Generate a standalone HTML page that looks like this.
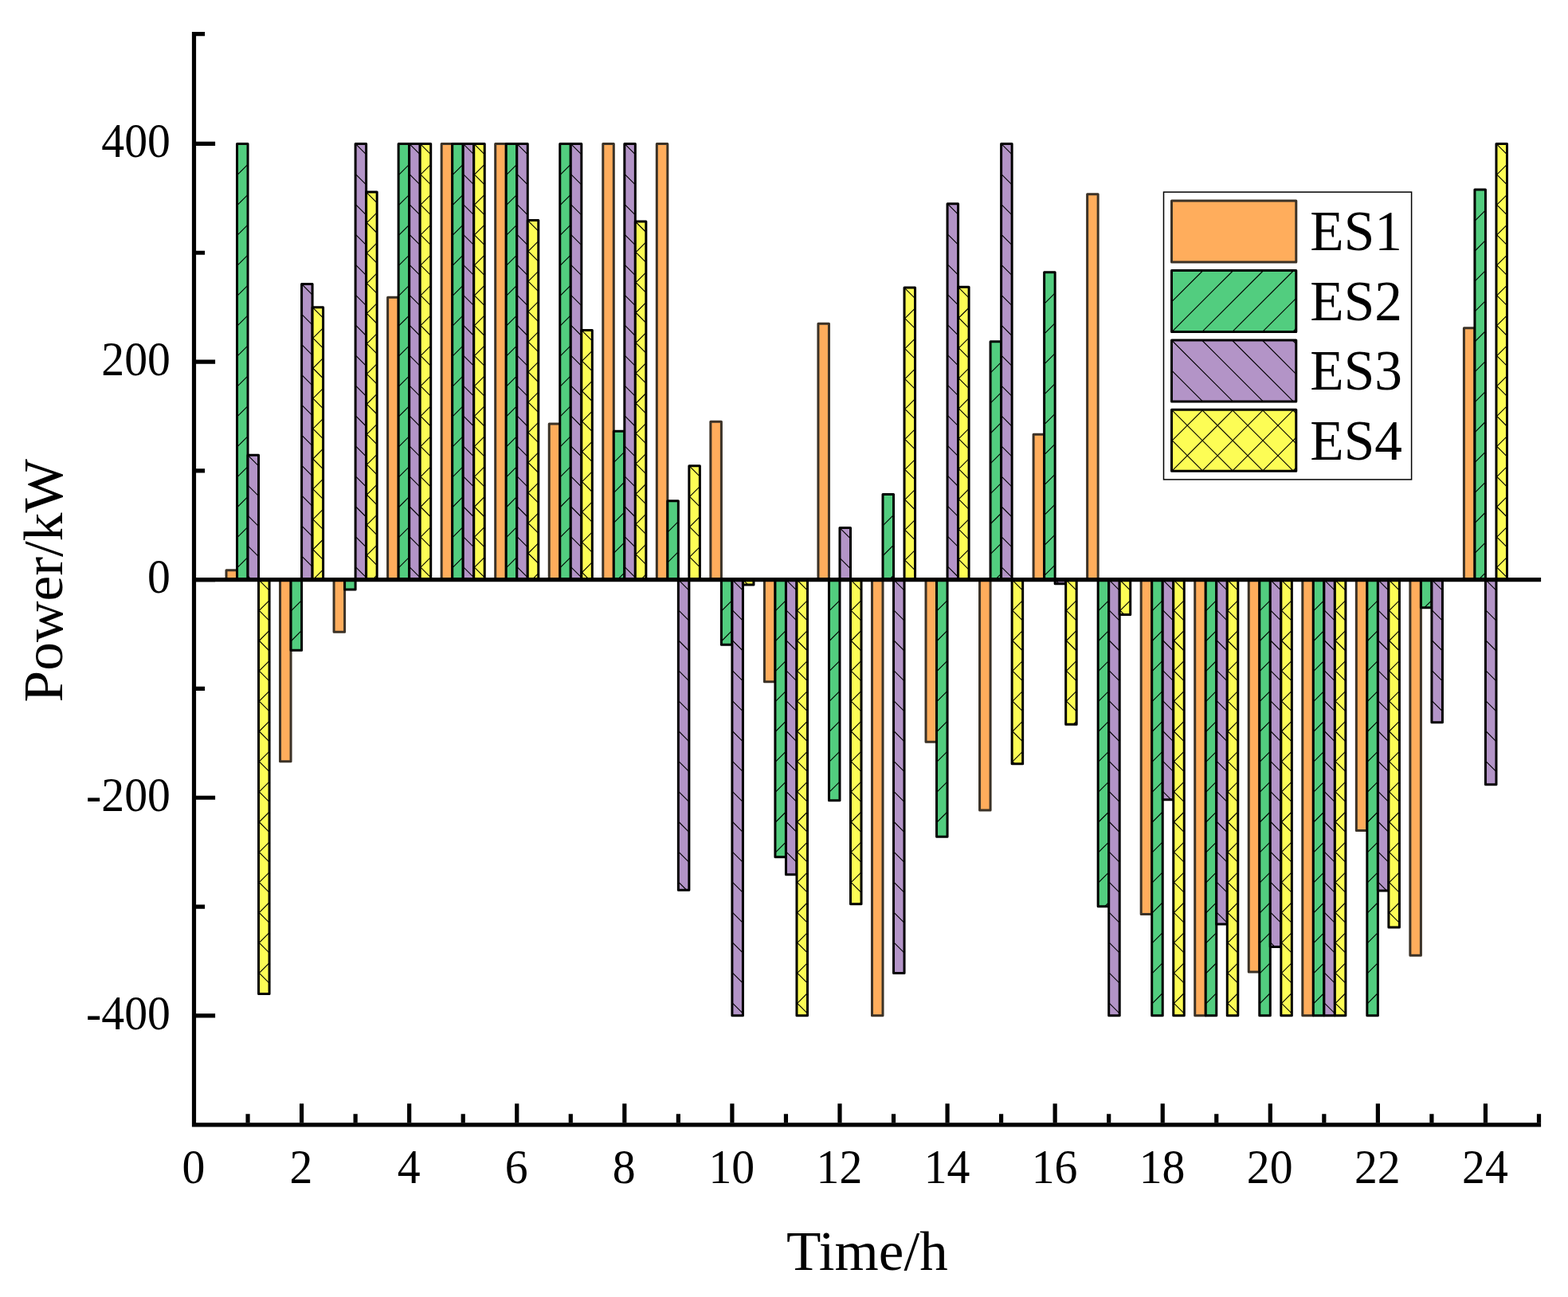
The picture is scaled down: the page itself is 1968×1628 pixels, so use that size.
<!DOCTYPE html>
<html lang="en">
<head>
<meta charset="utf-8">
<title>Power/kW vs Time/h</title>
<style>
html,body{margin:0;padding:0;background:#fff;}
body{width:1968px;height:1628px;overflow:hidden;}
svg{display:block;}
</style>
</head>
<body>
<svg width="1968" height="1628" viewBox="0 0 1968 1628" role="img" aria-label="Grouped bar chart of Power/kW versus Time/h for ES1 to ES4">
<rect width="1968" height="1628" fill="#fff"/>
<g fill="#FFAD5C" stroke="#3b3227" stroke-width="3.0" stroke-linejoin="round">
<rect x="284.00" y="715.75" width="13.52" height="11.90"/>
<rect x="351.54" y="727.65" width="13.52" height="228.05"/>
<rect x="419.08" y="727.65" width="13.52" height="65.66"/>
<rect x="486.62" y="373.34" width="13.52" height="354.31"/>
<rect x="554.16" y="180.45" width="13.52" height="547.20"/>
<rect x="621.70" y="180.45" width="13.52" height="547.20"/>
<rect x="689.24" y="532.03" width="13.52" height="195.62"/>
<rect x="756.78" y="180.45" width="13.52" height="547.20"/>
<rect x="824.32" y="180.45" width="13.52" height="547.20"/>
<rect x="891.86" y="529.29" width="13.52" height="198.36"/>
<rect x="959.40" y="727.65" width="13.52" height="128.04"/>
<rect x="1026.94" y="406.17" width="13.52" height="321.48"/>
<rect x="1094.48" y="727.65" width="13.52" height="547.20"/>
<rect x="1162.02" y="727.65" width="13.52" height="203.70"/>
<rect x="1229.56" y="727.65" width="13.52" height="289.47"/>
<rect x="1297.10" y="545.30" width="13.52" height="182.35"/>
<rect x="1364.64" y="243.79" width="13.52" height="483.86"/>
<rect x="1432.18" y="727.65" width="13.52" height="419.84"/>
<rect x="1499.72" y="727.65" width="13.52" height="547.20"/>
<rect x="1567.26" y="727.65" width="13.52" height="492.34"/>
<rect x="1634.80" y="727.65" width="13.52" height="547.20"/>
<rect x="1702.34" y="727.65" width="13.52" height="314.91"/>
<rect x="1769.88" y="727.65" width="13.52" height="471.55"/>
<rect x="1837.42" y="411.64" width="13.52" height="316.01"/>
</g>
<g fill="#52CD7F" stroke="#000" stroke-width="3.0" stroke-linejoin="round">
<rect x="297.52" y="180.45" width="13.52" height="547.20"/>
<rect x="365.06" y="727.65" width="13.52" height="88.51"/>
<rect x="432.60" y="727.65" width="13.52" height="12.31"/>
<rect x="500.14" y="180.45" width="13.52" height="547.20"/>
<rect x="567.68" y="180.45" width="13.52" height="547.20"/>
<rect x="635.22" y="180.45" width="13.52" height="547.20"/>
<rect x="702.76" y="180.45" width="13.52" height="547.20"/>
<rect x="770.30" y="541.19" width="13.52" height="186.46"/>
<rect x="837.84" y="628.74" width="13.52" height="98.91"/>
<rect x="905.38" y="727.65" width="13.52" height="81.53"/>
<rect x="972.92" y="727.65" width="13.52" height="348.02"/>
<rect x="1040.46" y="727.65" width="13.52" height="277.16"/>
<rect x="1108.00" y="620.40" width="13.52" height="107.25"/>
<rect x="1175.54" y="727.65" width="13.52" height="322.71"/>
<rect x="1243.08" y="428.74" width="13.52" height="298.91"/>
<rect x="1310.62" y="341.87" width="13.52" height="385.78"/>
<rect x="1378.16" y="727.65" width="13.52" height="409.99"/>
<rect x="1445.70" y="727.65" width="13.52" height="547.20"/>
<rect x="1513.24" y="727.65" width="13.52" height="547.20"/>
<rect x="1580.78" y="727.65" width="13.52" height="547.20"/>
<rect x="1648.32" y="727.65" width="13.52" height="547.20"/>
<rect x="1715.86" y="727.65" width="13.52" height="547.20"/>
<rect x="1783.40" y="727.65" width="13.52" height="35.02"/>
<rect x="1850.94" y="237.91" width="13.52" height="489.74"/>
</g>
<path d="M297.52 181.95L299.02 180.45M297.52 219.87L311.04 206.35M297.52 257.79L311.04 244.27M297.52 295.71L311.04 282.19M297.52 333.63L311.04 320.11M297.52 371.55L311.04 358.03M297.52 409.47L311.04 395.95M297.52 447.39L311.04 433.87M297.52 485.31L311.04 471.79M297.52 523.23L311.04 509.71M297.52 561.15L311.04 547.63M297.52 599.07L311.04 585.55M297.52 636.99L311.04 623.47M297.52 674.91L311.04 661.39M297.52 712.83L311.04 699.31M365.06 729.15L366.56 727.65M365.06 767.07L378.58 753.55M365.06 804.99L378.58 791.47M432.60 729.15L434.10 727.65M500.14 181.95L501.64 180.45M500.14 219.87L513.66 206.35M500.14 257.79L513.66 244.27M500.14 295.71L513.66 282.19M500.14 333.63L513.66 320.11M500.14 371.55L513.66 358.03M500.14 409.47L513.66 395.95M500.14 447.39L513.66 433.87M500.14 485.31L513.66 471.79M500.14 523.23L513.66 509.71M500.14 561.15L513.66 547.63M500.14 599.07L513.66 585.55M500.14 636.99L513.66 623.47M500.14 674.91L513.66 661.39M500.14 712.83L513.66 699.31M567.68 181.95L569.18 180.45M567.68 219.87L581.20 206.35M567.68 257.79L581.20 244.27M567.68 295.71L581.20 282.19M567.68 333.63L581.20 320.11M567.68 371.55L581.20 358.03M567.68 409.47L581.20 395.95M567.68 447.39L581.20 433.87M567.68 485.31L581.20 471.79M567.68 523.23L581.20 509.71M567.68 561.15L581.20 547.63M567.68 599.07L581.20 585.55M567.68 636.99L581.20 623.47M567.68 674.91L581.20 661.39M567.68 712.83L581.20 699.31M635.22 181.95L636.72 180.45M635.22 219.87L648.74 206.35M635.22 257.79L648.74 244.27M635.22 295.71L648.74 282.19M635.22 333.63L648.74 320.11M635.22 371.55L648.74 358.03M635.22 409.47L648.74 395.95M635.22 447.39L648.74 433.87M635.22 485.31L648.74 471.79M635.22 523.23L648.74 509.71M635.22 561.15L648.74 547.63M635.22 599.07L648.74 585.55M635.22 636.99L648.74 623.47M635.22 674.91L648.74 661.39M635.22 712.83L648.74 699.31M702.76 181.95L704.26 180.45M702.76 219.87L716.28 206.35M702.76 257.79L716.28 244.27M702.76 295.71L716.28 282.19M702.76 333.63L716.28 320.11M702.76 371.55L716.28 358.03M702.76 409.47L716.28 395.95M702.76 447.39L716.28 433.87M702.76 485.31L716.28 471.79M702.76 523.23L716.28 509.71M702.76 561.15L716.28 547.63M702.76 599.07L716.28 585.55M702.76 636.99L716.28 623.47M702.76 674.91L716.28 661.39M702.76 712.83L716.28 699.31M770.30 542.69L771.80 541.19M770.30 580.61L783.82 567.09M770.30 618.53L783.82 605.01M770.30 656.45L783.82 642.93M770.30 694.37L783.82 680.85M774.94 727.65L783.82 718.77M837.84 630.24L839.34 628.74M837.84 668.16L851.36 654.64M837.84 706.08L851.36 692.56M905.38 729.15L906.88 727.65M905.38 767.07L918.90 753.55M905.38 804.99L918.90 791.47M972.92 729.15L974.42 727.65M972.92 767.07L986.44 753.55M972.92 804.99L986.44 791.47M972.92 842.91L986.44 829.39M972.92 880.83L986.44 867.31M972.92 918.75L986.44 905.23M972.92 956.67L986.44 943.15M972.92 994.59L986.44 981.07M972.92 1032.51L986.44 1018.99M972.92 1070.43L986.44 1056.91M1040.46 729.15L1041.96 727.65M1040.46 767.07L1053.98 753.55M1040.46 804.99L1053.98 791.47M1040.46 842.91L1053.98 829.39M1040.46 880.83L1053.98 867.31M1040.46 918.75L1053.98 905.23M1040.46 956.67L1053.98 943.15M1040.46 994.59L1053.98 981.07M1108.00 621.90L1109.50 620.40M1108.00 659.82L1121.52 646.30M1108.00 697.74L1121.52 684.22M1116.01 727.65L1121.52 722.14M1175.54 729.15L1177.04 727.65M1175.54 767.07L1189.06 753.55M1175.54 804.99L1189.06 791.47M1175.54 842.91L1189.06 829.39M1175.54 880.83L1189.06 867.31M1175.54 918.75L1189.06 905.23M1175.54 956.67L1189.06 943.15M1175.54 994.59L1189.06 981.07M1175.54 1032.51L1189.06 1018.99M1243.08 430.24L1244.58 428.74M1243.08 468.16L1256.60 454.64M1243.08 506.08L1256.60 492.56M1243.08 544.00L1256.60 530.48M1243.08 581.92L1256.60 568.40M1243.08 619.84L1256.60 606.32M1243.08 657.76L1256.60 644.24M1243.08 695.68L1256.60 682.16M1249.03 727.65L1256.60 720.08M1310.62 343.37L1312.12 341.87M1310.62 381.29L1324.14 367.77M1310.62 419.21L1324.14 405.69M1310.62 457.13L1324.14 443.61M1310.62 495.05L1324.14 481.53M1310.62 532.97L1324.14 519.45M1310.62 570.89L1324.14 557.37M1310.62 608.81L1324.14 595.29M1310.62 646.73L1324.14 633.21M1310.62 684.65L1324.14 671.13M1310.62 722.57L1324.14 709.05M1378.16 729.15L1379.66 727.65M1378.16 767.07L1391.68 753.55M1378.16 804.99L1391.68 791.47M1378.16 842.91L1391.68 829.39M1378.16 880.83L1391.68 867.31M1378.16 918.75L1391.68 905.23M1378.16 956.67L1391.68 943.15M1378.16 994.59L1391.68 981.07M1378.16 1032.51L1391.68 1018.99M1378.16 1070.43L1391.68 1056.91M1378.16 1108.35L1391.68 1094.83M1386.79 1137.64L1391.68 1132.75M1445.70 729.15L1447.20 727.65M1445.70 767.07L1459.22 753.55M1445.70 804.99L1459.22 791.47M1445.70 842.91L1459.22 829.39M1445.70 880.83L1459.22 867.31M1445.70 918.75L1459.22 905.23M1445.70 956.67L1459.22 943.15M1445.70 994.59L1459.22 981.07M1445.70 1032.51L1459.22 1018.99M1445.70 1070.43L1459.22 1056.91M1445.70 1108.35L1459.22 1094.83M1445.70 1146.27L1459.22 1132.75M1445.70 1184.19L1459.22 1170.67M1445.70 1222.11L1459.22 1208.59M1445.70 1260.03L1459.22 1246.51M1513.24 729.15L1514.74 727.65M1513.24 767.07L1526.76 753.55M1513.24 804.99L1526.76 791.47M1513.24 842.91L1526.76 829.39M1513.24 880.83L1526.76 867.31M1513.24 918.75L1526.76 905.23M1513.24 956.67L1526.76 943.15M1513.24 994.59L1526.76 981.07M1513.24 1032.51L1526.76 1018.99M1513.24 1070.43L1526.76 1056.91M1513.24 1108.35L1526.76 1094.83M1513.24 1146.27L1526.76 1132.75M1513.24 1184.19L1526.76 1170.67M1513.24 1222.11L1526.76 1208.59M1513.24 1260.03L1526.76 1246.51M1580.78 729.15L1582.28 727.65M1580.78 767.07L1594.30 753.55M1580.78 804.99L1594.30 791.47M1580.78 842.91L1594.30 829.39M1580.78 880.83L1594.30 867.31M1580.78 918.75L1594.30 905.23M1580.78 956.67L1594.30 943.15M1580.78 994.59L1594.30 981.07M1580.78 1032.51L1594.30 1018.99M1580.78 1070.43L1594.30 1056.91M1580.78 1108.35L1594.30 1094.83M1580.78 1146.27L1594.30 1132.75M1580.78 1184.19L1594.30 1170.67M1580.78 1222.11L1594.30 1208.59M1580.78 1260.03L1594.30 1246.51M1648.32 729.15L1649.82 727.65M1648.32 767.07L1661.84 753.55M1648.32 804.99L1661.84 791.47M1648.32 842.91L1661.84 829.39M1648.32 880.83L1661.84 867.31M1648.32 918.75L1661.84 905.23M1648.32 956.67L1661.84 943.15M1648.32 994.59L1661.84 981.07M1648.32 1032.51L1661.84 1018.99M1648.32 1070.43L1661.84 1056.91M1648.32 1108.35L1661.84 1094.83M1648.32 1146.27L1661.84 1132.75M1648.32 1184.19L1661.84 1170.67M1648.32 1222.11L1661.84 1208.59M1648.32 1260.03L1661.84 1246.51M1715.86 729.15L1717.36 727.65M1715.86 767.07L1729.38 753.55M1715.86 804.99L1729.38 791.47M1715.86 842.91L1729.38 829.39M1715.86 880.83L1729.38 867.31M1715.86 918.75L1729.38 905.23M1715.86 956.67L1729.38 943.15M1715.86 994.59L1729.38 981.07M1715.86 1032.51L1729.38 1018.99M1715.86 1070.43L1729.38 1056.91M1715.86 1108.35L1729.38 1094.83M1715.86 1146.27L1729.38 1132.75M1715.86 1184.19L1729.38 1170.67M1715.86 1222.11L1729.38 1208.59M1715.86 1260.03L1729.38 1246.51M1783.40 729.15L1784.90 727.65M1787.80 762.67L1796.92 753.55M1850.94 239.41L1852.44 237.91M1850.94 277.33L1864.46 263.81M1850.94 315.25L1864.46 301.73M1850.94 353.17L1864.46 339.65M1850.94 391.09L1864.46 377.57M1850.94 429.01L1864.46 415.49M1850.94 466.93L1864.46 453.41M1850.94 504.85L1864.46 491.33M1850.94 542.77L1864.46 529.25M1850.94 580.69L1864.46 567.17M1850.94 618.61L1864.46 605.09M1850.94 656.53L1864.46 643.01M1850.94 694.45L1864.46 680.93M1855.66 727.65L1864.46 718.85" fill="none" stroke="#000" stroke-width="1.1"/>
<g fill="#B394C7" stroke="#000" stroke-width="3.0" stroke-linejoin="round">
<rect x="311.04" y="571.29" width="13.52" height="156.36"/>
<rect x="378.58" y="356.51" width="13.52" height="371.14"/>
<rect x="446.12" y="180.45" width="13.52" height="547.20"/>
<rect x="513.66" y="180.45" width="13.52" height="547.20"/>
<rect x="581.20" y="180.45" width="13.52" height="547.20"/>
<rect x="648.74" y="180.45" width="13.52" height="547.20"/>
<rect x="716.28" y="180.45" width="13.52" height="547.20"/>
<rect x="783.82" y="180.45" width="13.52" height="547.20"/>
<rect x="851.36" y="727.65" width="13.52" height="389.61"/>
<rect x="918.90" y="727.65" width="13.52" height="547.20"/>
<rect x="986.44" y="727.65" width="13.52" height="370.18"/>
<rect x="1053.98" y="662.53" width="13.52" height="65.12"/>
<rect x="1121.52" y="727.65" width="13.52" height="493.85"/>
<rect x="1189.06" y="255.69" width="13.52" height="471.96"/>
<rect x="1256.60" y="180.45" width="13.52" height="547.20"/>
<rect x="1324.14" y="727.65" width="13.52" height="5.06"/>
<rect x="1391.68" y="727.65" width="13.52" height="547.20"/>
<rect x="1459.22" y="727.65" width="13.52" height="276.20"/>
<rect x="1526.76" y="727.65" width="13.52" height="432.42"/>
<rect x="1594.30" y="727.65" width="13.52" height="460.88"/>
<rect x="1661.84" y="727.65" width="13.52" height="547.20"/>
<rect x="1729.38" y="727.65" width="13.52" height="390.43"/>
<rect x="1796.92" y="727.65" width="13.52" height="179.21"/>
<rect x="1864.46" y="727.65" width="13.52" height="257.18"/>
</g>
<path d="M311.04 571.29L324.56 584.81M311.04 609.21L324.56 622.73M311.04 647.13L324.56 660.65M311.04 685.05L324.56 698.57M311.04 722.97L315.72 727.65M378.58 356.51L392.10 370.03M378.58 394.43L392.10 407.95M378.58 432.35L392.10 445.87M378.58 470.27L392.10 483.79M378.58 508.19L392.10 521.71M378.58 546.11L392.10 559.63M378.58 584.03L392.10 597.55M378.58 621.95L392.10 635.47M378.58 659.87L392.10 673.39M378.58 697.79L392.10 711.31M446.12 180.45L459.64 193.97M446.12 218.37L459.64 231.89M446.12 256.29L459.64 269.81M446.12 294.21L459.64 307.73M446.12 332.13L459.64 345.65M446.12 370.05L459.64 383.57M446.12 407.97L459.64 421.49M446.12 445.89L459.64 459.41M446.12 483.81L459.64 497.33M446.12 521.73L459.64 535.25M446.12 559.65L459.64 573.17M446.12 597.57L459.64 611.09M446.12 635.49L459.64 649.01M446.12 673.41L459.64 686.93M446.12 711.33L459.64 724.85M513.66 180.45L527.18 193.97M513.66 218.37L527.18 231.89M513.66 256.29L527.18 269.81M513.66 294.21L527.18 307.73M513.66 332.13L527.18 345.65M513.66 370.05L527.18 383.57M513.66 407.97L527.18 421.49M513.66 445.89L527.18 459.41M513.66 483.81L527.18 497.33M513.66 521.73L527.18 535.25M513.66 559.65L527.18 573.17M513.66 597.57L527.18 611.09M513.66 635.49L527.18 649.01M513.66 673.41L527.18 686.93M513.66 711.33L527.18 724.85M581.20 180.45L594.72 193.97M581.20 218.37L594.72 231.89M581.20 256.29L594.72 269.81M581.20 294.21L594.72 307.73M581.20 332.13L594.72 345.65M581.20 370.05L594.72 383.57M581.20 407.97L594.72 421.49M581.20 445.89L594.72 459.41M581.20 483.81L594.72 497.33M581.20 521.73L594.72 535.25M581.20 559.65L594.72 573.17M581.20 597.57L594.72 611.09M581.20 635.49L594.72 649.01M581.20 673.41L594.72 686.93M581.20 711.33L594.72 724.85M648.74 180.45L662.26 193.97M648.74 218.37L662.26 231.89M648.74 256.29L662.26 269.81M648.74 294.21L662.26 307.73M648.74 332.13L662.26 345.65M648.74 370.05L662.26 383.57M648.74 407.97L662.26 421.49M648.74 445.89L662.26 459.41M648.74 483.81L662.26 497.33M648.74 521.73L662.26 535.25M648.74 559.65L662.26 573.17M648.74 597.57L662.26 611.09M648.74 635.49L662.26 649.01M648.74 673.41L662.26 686.93M648.74 711.33L662.26 724.85M716.28 180.45L729.80 193.97M716.28 218.37L729.80 231.89M716.28 256.29L729.80 269.81M716.28 294.21L729.80 307.73M716.28 332.13L729.80 345.65M716.28 370.05L729.80 383.57M716.28 407.97L729.80 421.49M716.28 445.89L729.80 459.41M716.28 483.81L729.80 497.33M716.28 521.73L729.80 535.25M716.28 559.65L729.80 573.17M716.28 597.57L729.80 611.09M716.28 635.49L729.80 649.01M716.28 673.41L729.80 686.93M716.28 711.33L729.80 724.85M783.82 180.45L797.34 193.97M783.82 218.37L797.34 231.89M783.82 256.29L797.34 269.81M783.82 294.21L797.34 307.73M783.82 332.13L797.34 345.65M783.82 370.05L797.34 383.57M783.82 407.97L797.34 421.49M783.82 445.89L797.34 459.41M783.82 483.81L797.34 497.33M783.82 521.73L797.34 535.25M783.82 559.65L797.34 573.17M783.82 597.57L797.34 611.09M783.82 635.49L797.34 649.01M783.82 673.41L797.34 686.93M783.82 711.33L797.34 724.85M851.36 727.65L864.88 741.17M851.36 765.57L864.88 779.09M851.36 803.49L864.88 817.01M851.36 841.41L864.88 854.93M851.36 879.33L864.88 892.85M851.36 917.25L864.88 930.77M851.36 955.17L864.88 968.69M851.36 993.09L864.88 1006.61M851.36 1031.01L864.88 1044.53M851.36 1068.93L864.88 1082.45M851.36 1106.85L861.77 1117.26M918.90 727.65L932.42 741.17M918.90 765.57L932.42 779.09M918.90 803.49L932.42 817.01M918.90 841.41L932.42 854.93M918.90 879.33L932.42 892.85M918.90 917.25L932.42 930.77M918.90 955.17L932.42 968.69M918.90 993.09L932.42 1006.61M918.90 1031.01L932.42 1044.53M918.90 1068.93L932.42 1082.45M918.90 1106.85L932.42 1120.37M918.90 1144.77L932.42 1158.29M918.90 1182.69L932.42 1196.21M918.90 1220.61L932.42 1234.13M918.90 1258.53L932.42 1272.05M986.44 727.65L999.96 741.17M986.44 765.57L999.96 779.09M986.44 803.49L999.96 817.01M986.44 841.41L999.96 854.93M986.44 879.33L999.96 892.85M986.44 917.25L999.96 930.77M986.44 955.17L999.96 968.69M986.44 993.09L999.96 1006.61M986.44 1031.01L999.96 1044.53M986.44 1068.93L999.96 1082.45M1053.98 662.53L1067.50 676.05M1053.98 700.45L1067.50 713.97M1121.52 727.65L1135.04 741.17M1121.52 765.57L1135.04 779.09M1121.52 803.49L1135.04 817.01M1121.52 841.41L1135.04 854.93M1121.52 879.33L1135.04 892.85M1121.52 917.25L1135.04 930.77M1121.52 955.17L1135.04 968.69M1121.52 993.09L1135.04 1006.61M1121.52 1031.01L1135.04 1044.53M1121.52 1068.93L1135.04 1082.45M1121.52 1106.85L1135.04 1120.37M1121.52 1144.77L1135.04 1158.29M1121.52 1182.69L1135.04 1196.21M1121.52 1220.61L1122.41 1221.50M1189.06 255.69L1202.58 269.21M1189.06 293.61L1202.58 307.13M1189.06 331.53L1202.58 345.05M1189.06 369.45L1202.58 382.97M1189.06 407.37L1202.58 420.89M1189.06 445.29L1202.58 458.81M1189.06 483.21L1202.58 496.73M1189.06 521.13L1202.58 534.65M1189.06 559.05L1202.58 572.57M1189.06 596.97L1202.58 610.49M1189.06 634.89L1202.58 648.41M1189.06 672.81L1202.58 686.33M1189.06 710.73L1202.58 724.25M1256.60 180.45L1270.12 193.97M1256.60 218.37L1270.12 231.89M1256.60 256.29L1270.12 269.81M1256.60 294.21L1270.12 307.73M1256.60 332.13L1270.12 345.65M1256.60 370.05L1270.12 383.57M1256.60 407.97L1270.12 421.49M1256.60 445.89L1270.12 459.41M1256.60 483.81L1270.12 497.33M1256.60 521.73L1270.12 535.25M1256.60 559.65L1270.12 573.17M1256.60 597.57L1270.12 611.09M1256.60 635.49L1270.12 649.01M1256.60 673.41L1270.12 686.93M1256.60 711.33L1270.12 724.85M1324.14 727.65L1329.20 732.71M1391.68 727.65L1405.20 741.17M1391.68 765.57L1405.20 779.09M1391.68 803.49L1405.20 817.01M1391.68 841.41L1405.20 854.93M1391.68 879.33L1405.20 892.85M1391.68 917.25L1405.20 930.77M1391.68 955.17L1405.20 968.69M1391.68 993.09L1405.20 1006.61M1391.68 1031.01L1405.20 1044.53M1391.68 1068.93L1405.20 1082.45M1391.68 1106.85L1405.20 1120.37M1391.68 1144.77L1405.20 1158.29M1391.68 1182.69L1405.20 1196.21M1391.68 1220.61L1405.20 1234.13M1391.68 1258.53L1405.20 1272.05M1459.22 727.65L1472.74 741.17M1459.22 765.57L1472.74 779.09M1459.22 803.49L1472.74 817.01M1459.22 841.41L1472.74 854.93M1459.22 879.33L1472.74 892.85M1459.22 917.25L1472.74 930.77M1459.22 955.17L1472.74 968.69M1459.22 993.09L1469.98 1003.85M1526.76 727.65L1540.28 741.17M1526.76 765.57L1540.28 779.09M1526.76 803.49L1540.28 817.01M1526.76 841.41L1540.28 854.93M1526.76 879.33L1540.28 892.85M1526.76 917.25L1540.28 930.77M1526.76 955.17L1540.28 968.69M1526.76 993.09L1540.28 1006.61M1526.76 1031.01L1540.28 1044.53M1526.76 1068.93L1540.28 1082.45M1526.76 1106.85L1540.28 1120.37M1526.76 1144.77L1540.28 1158.29M1594.30 727.65L1607.82 741.17M1594.30 765.57L1607.82 779.09M1594.30 803.49L1607.82 817.01M1594.30 841.41L1607.82 854.93M1594.30 879.33L1607.82 892.85M1594.30 917.25L1607.82 930.77M1594.30 955.17L1607.82 968.69M1594.30 993.09L1607.82 1006.61M1594.30 1031.01L1607.82 1044.53M1594.30 1068.93L1607.82 1082.45M1594.30 1106.85L1607.82 1120.37M1594.30 1144.77L1607.82 1158.29M1594.30 1182.69L1600.14 1188.53M1661.84 727.65L1675.36 741.17M1661.84 765.57L1675.36 779.09M1661.84 803.49L1675.36 817.01M1661.84 841.41L1675.36 854.93M1661.84 879.33L1675.36 892.85M1661.84 917.25L1675.36 930.77M1661.84 955.17L1675.36 968.69M1661.84 993.09L1675.36 1006.61M1661.84 1031.01L1675.36 1044.53M1661.84 1068.93L1675.36 1082.45M1661.84 1106.85L1675.36 1120.37M1661.84 1144.77L1675.36 1158.29M1661.84 1182.69L1675.36 1196.21M1661.84 1220.61L1675.36 1234.13M1661.84 1258.53L1675.36 1272.05M1729.38 727.65L1742.90 741.17M1729.38 765.57L1742.90 779.09M1729.38 803.49L1742.90 817.01M1729.38 841.41L1742.90 854.93M1729.38 879.33L1742.90 892.85M1729.38 917.25L1742.90 930.77M1729.38 955.17L1742.90 968.69M1729.38 993.09L1742.90 1006.61M1729.38 1031.01L1742.90 1044.53M1729.38 1068.93L1742.90 1082.45M1729.38 1106.85L1740.61 1118.08M1796.92 727.65L1810.44 741.17M1796.92 765.57L1810.44 779.09M1796.92 803.49L1810.44 817.01M1796.92 841.41L1810.44 854.93M1796.92 879.33L1810.44 892.85M1864.46 727.65L1877.98 741.17M1864.46 765.57L1877.98 779.09M1864.46 803.49L1877.98 817.01M1864.46 841.41L1877.98 854.93M1864.46 879.33L1877.98 892.85M1864.46 917.25L1877.98 930.77M1864.46 955.17L1877.98 968.69" fill="none" stroke="#000" stroke-width="1.1"/>
<g fill="#FDFD55" stroke="#000" stroke-width="3.0" stroke-linejoin="round">
<rect x="324.56" y="727.65" width="13.52" height="519.84"/>
<rect x="392.10" y="385.65" width="13.52" height="342.00"/>
<rect x="459.64" y="241.05" width="13.52" height="486.60"/>
<rect x="527.18" y="180.45" width="13.52" height="547.20"/>
<rect x="594.72" y="180.45" width="13.52" height="547.20"/>
<rect x="662.26" y="276.62" width="13.52" height="451.03"/>
<rect x="729.80" y="414.38" width="13.52" height="313.27"/>
<rect x="797.34" y="277.99" width="13.52" height="449.66"/>
<rect x="864.88" y="584.69" width="13.52" height="142.96"/>
<rect x="932.42" y="727.65" width="13.52" height="6.29"/>
<rect x="999.96" y="727.65" width="13.52" height="547.20"/>
<rect x="1067.50" y="727.65" width="13.52" height="406.98"/>
<rect x="1135.04" y="361.03" width="13.52" height="366.62"/>
<rect x="1202.58" y="360.34" width="13.52" height="367.31"/>
<rect x="1270.12" y="727.65" width="13.52" height="231.06"/>
<rect x="1337.66" y="727.65" width="13.52" height="181.53"/>
<rect x="1405.20" y="727.65" width="13.52" height="43.78"/>
<rect x="1472.74" y="727.65" width="13.52" height="547.20"/>
<rect x="1540.28" y="727.65" width="13.52" height="547.20"/>
<rect x="1607.82" y="727.65" width="13.52" height="547.20"/>
<rect x="1675.36" y="727.65" width="13.52" height="547.20"/>
<rect x="1742.90" y="727.65" width="13.52" height="436.26"/>
<rect x="1877.98" y="180.45" width="13.52" height="547.20"/>
</g>
<path d="M324.56 729.15L326.06 727.65M324.56 767.07L338.08 753.55M324.56 804.99L338.08 791.47M324.56 842.91L338.08 829.39M324.56 880.83L338.08 867.31M324.56 918.75L338.08 905.23M324.56 956.67L338.08 943.15M324.56 994.59L338.08 981.07M324.56 1032.51L338.08 1018.99M324.56 1070.43L338.08 1056.91M324.56 1108.35L338.08 1094.83M324.56 1146.27L338.08 1132.75M324.56 1184.19L338.08 1170.67M324.56 1222.11L338.08 1208.59M337.10 1247.49L338.08 1246.51M324.56 727.65L338.08 741.17M324.56 765.57L338.08 779.09M324.56 803.49L338.08 817.01M324.56 841.41L338.08 854.93M324.56 879.33L338.08 892.85M324.56 917.25L338.08 930.77M324.56 955.17L338.08 968.69M324.56 993.09L338.08 1006.61M324.56 1031.01L338.08 1044.53M324.56 1068.93L338.08 1082.45M324.56 1106.85L338.08 1120.37M324.56 1144.77L338.08 1158.29M324.56 1182.69L338.08 1196.21M324.56 1220.61L338.08 1234.13M392.10 387.15L393.60 385.65M392.10 425.07L405.62 411.55M392.10 462.99L405.62 449.47M392.10 500.91L405.62 487.39M392.10 538.83L405.62 525.31M392.10 576.75L405.62 563.23M392.10 614.67L405.62 601.15M392.10 652.59L405.62 639.07M392.10 690.51L405.62 676.99M392.88 727.65L405.62 714.91M392.10 385.65L405.62 399.17M392.10 423.57L405.62 437.09M392.10 461.49L405.62 475.01M392.10 499.41L405.62 512.93M392.10 537.33L405.62 550.85M392.10 575.25L405.62 588.77M392.10 613.17L405.62 626.69M392.10 651.09L405.62 664.61M392.10 689.01L405.62 702.53M392.10 726.93L392.82 727.65M459.64 242.55L461.14 241.05M459.64 280.47L473.16 266.95M459.64 318.39L473.16 304.87M459.64 356.31L473.16 342.79M459.64 394.23L473.16 380.71M459.64 432.15L473.16 418.63M459.64 470.07L473.16 456.55M459.64 507.99L473.16 494.47M459.64 545.91L473.16 532.39M459.64 583.83L473.16 570.31M459.64 621.75L473.16 608.23M459.64 659.67L473.16 646.15M459.64 697.59L473.16 684.07M467.50 727.65L473.16 721.99M459.64 241.05L473.16 254.57M459.64 278.97L473.16 292.49M459.64 316.89L473.16 330.41M459.64 354.81L473.16 368.33M459.64 392.73L473.16 406.25M459.64 430.65L473.16 444.17M459.64 468.57L473.16 482.09M459.64 506.49L473.16 520.01M459.64 544.41L473.16 557.93M459.64 582.33L473.16 595.85M459.64 620.25L473.16 633.77M459.64 658.17L473.16 671.69M459.64 696.09L473.16 709.61M527.18 181.95L528.68 180.45M527.18 219.87L540.70 206.35M527.18 257.79L540.70 244.27M527.18 295.71L540.70 282.19M527.18 333.63L540.70 320.11M527.18 371.55L540.70 358.03M527.18 409.47L540.70 395.95M527.18 447.39L540.70 433.87M527.18 485.31L540.70 471.79M527.18 523.23L540.70 509.71M527.18 561.15L540.70 547.63M527.18 599.07L540.70 585.55M527.18 636.99L540.70 623.47M527.18 674.91L540.70 661.39M527.18 712.83L540.70 699.31M527.18 180.45L540.70 193.97M527.18 218.37L540.70 231.89M527.18 256.29L540.70 269.81M527.18 294.21L540.70 307.73M527.18 332.13L540.70 345.65M527.18 370.05L540.70 383.57M527.18 407.97L540.70 421.49M527.18 445.89L540.70 459.41M527.18 483.81L540.70 497.33M527.18 521.73L540.70 535.25M527.18 559.65L540.70 573.17M527.18 597.57L540.70 611.09M527.18 635.49L540.70 649.01M527.18 673.41L540.70 686.93M527.18 711.33L540.70 724.85M594.72 181.95L596.22 180.45M594.72 219.87L608.24 206.35M594.72 257.79L608.24 244.27M594.72 295.71L608.24 282.19M594.72 333.63L608.24 320.11M594.72 371.55L608.24 358.03M594.72 409.47L608.24 395.95M594.72 447.39L608.24 433.87M594.72 485.31L608.24 471.79M594.72 523.23L608.24 509.71M594.72 561.15L608.24 547.63M594.72 599.07L608.24 585.55M594.72 636.99L608.24 623.47M594.72 674.91L608.24 661.39M594.72 712.83L608.24 699.31M594.72 180.45L608.24 193.97M594.72 218.37L608.24 231.89M594.72 256.29L608.24 269.81M594.72 294.21L608.24 307.73M594.72 332.13L608.24 345.65M594.72 370.05L608.24 383.57M594.72 407.97L608.24 421.49M594.72 445.89L608.24 459.41M594.72 483.81L608.24 497.33M594.72 521.73L608.24 535.25M594.72 559.65L608.24 573.17M594.72 597.57L608.24 611.09M594.72 635.49L608.24 649.01M594.72 673.41L608.24 686.93M594.72 711.33L608.24 724.85M662.26 278.12L663.76 276.62M662.26 316.04L675.78 302.52M662.26 353.96L675.78 340.44M662.26 391.88L675.78 378.36M662.26 429.80L675.78 416.28M662.26 467.72L675.78 454.20M662.26 505.64L675.78 492.12M662.26 543.56L675.78 530.04M662.26 581.48L675.78 567.96M662.26 619.40L675.78 605.88M662.26 657.32L675.78 643.80M662.26 695.24L675.78 681.72M667.77 727.65L675.78 719.64M662.26 276.62L675.78 290.14M662.26 314.54L675.78 328.06M662.26 352.46L675.78 365.98M662.26 390.38L675.78 403.90M662.26 428.30L675.78 441.82M662.26 466.22L675.78 479.74M662.26 504.14L675.78 517.66M662.26 542.06L675.78 555.58M662.26 579.98L675.78 593.50M662.26 617.90L675.78 631.42M662.26 655.82L675.78 669.34M662.26 693.74L675.78 707.26M729.80 415.88L731.30 414.38M729.80 453.80L743.32 440.28M729.80 491.72L743.32 478.20M729.80 529.64L743.32 516.12M729.80 567.56L743.32 554.04M729.80 605.48L743.32 591.96M729.80 643.40L743.32 629.88M729.80 681.32L743.32 667.80M729.80 719.24L743.32 705.72M729.80 414.38L743.32 427.90M729.80 452.30L743.32 465.82M729.80 490.22L743.32 503.74M729.80 528.14L743.32 541.66M729.80 566.06L743.32 579.58M729.80 603.98L743.32 617.50M729.80 641.90L743.32 655.42M729.80 679.82L743.32 693.34M729.80 717.74L739.71 727.65M797.34 279.49L798.84 277.99M797.34 317.41L810.86 303.89M797.34 355.33L810.86 341.81M797.34 393.25L810.86 379.73M797.34 431.17L810.86 417.65M797.34 469.09L810.86 455.57M797.34 507.01L810.86 493.49M797.34 544.93L810.86 531.41M797.34 582.85L810.86 569.33M797.34 620.77L810.86 607.25M797.34 658.69L810.86 645.17M797.34 696.61L810.86 683.09M804.22 727.65L810.86 721.01M797.34 277.99L810.86 291.51M797.34 315.91L810.86 329.43M797.34 353.83L810.86 367.35M797.34 391.75L810.86 405.27M797.34 429.67L810.86 443.19M797.34 467.59L810.86 481.11M797.34 505.51L810.86 519.03M797.34 543.43L810.86 556.95M797.34 581.35L810.86 594.87M797.34 619.27L810.86 632.79M797.34 657.19L810.86 670.71M797.34 695.11L810.86 708.63M864.88 586.19L866.38 584.69M864.88 624.11L878.40 610.59M864.88 662.03L878.40 648.51M864.88 699.95L878.40 686.43M875.10 727.65L878.40 724.35M864.88 584.69L878.40 598.21M864.88 622.61L878.40 636.13M864.88 660.53L878.40 674.05M864.88 698.45L878.40 711.97M932.42 729.15L933.92 727.65M932.42 727.65L938.71 733.94M999.96 729.15L1001.46 727.65M999.96 767.07L1013.48 753.55M999.96 804.99L1013.48 791.47M999.96 842.91L1013.48 829.39M999.96 880.83L1013.48 867.31M999.96 918.75L1013.48 905.23M999.96 956.67L1013.48 943.15M999.96 994.59L1013.48 981.07M999.96 1032.51L1013.48 1018.99M999.96 1070.43L1013.48 1056.91M999.96 1108.35L1013.48 1094.83M999.96 1146.27L1013.48 1132.75M999.96 1184.19L1013.48 1170.67M999.96 1222.11L1013.48 1208.59M999.96 1260.03L1013.48 1246.51M999.96 727.65L1013.48 741.17M999.96 765.57L1013.48 779.09M999.96 803.49L1013.48 817.01M999.96 841.41L1013.48 854.93M999.96 879.33L1013.48 892.85M999.96 917.25L1013.48 930.77M999.96 955.17L1013.48 968.69M999.96 993.09L1013.48 1006.61M999.96 1031.01L1013.48 1044.53M999.96 1068.93L1013.48 1082.45M999.96 1106.85L1013.48 1120.37M999.96 1144.77L1013.48 1158.29M999.96 1182.69L1013.48 1196.21M999.96 1220.61L1013.48 1234.13M999.96 1258.53L1013.48 1272.05M1067.50 729.15L1069.00 727.65M1067.50 767.07L1081.02 753.55M1067.50 804.99L1081.02 791.47M1067.50 842.91L1081.02 829.39M1067.50 880.83L1081.02 867.31M1067.50 918.75L1081.02 905.23M1067.50 956.67L1081.02 943.15M1067.50 994.59L1081.02 981.07M1067.50 1032.51L1081.02 1018.99M1067.50 1070.43L1081.02 1056.91M1067.50 1108.35L1081.02 1094.83M1079.14 1134.63L1081.02 1132.75M1067.50 727.65L1081.02 741.17M1067.50 765.57L1081.02 779.09M1067.50 803.49L1081.02 817.01M1067.50 841.41L1081.02 854.93M1067.50 879.33L1081.02 892.85M1067.50 917.25L1081.02 930.77M1067.50 955.17L1081.02 968.69M1067.50 993.09L1081.02 1006.61M1067.50 1031.01L1081.02 1044.53M1067.50 1068.93L1081.02 1082.45M1067.50 1106.85L1081.02 1120.37M1135.04 362.53L1136.54 361.03M1135.04 400.45L1148.56 386.93M1135.04 438.37L1148.56 424.85M1135.04 476.29L1148.56 462.77M1135.04 514.21L1148.56 500.69M1135.04 552.13L1148.56 538.61M1135.04 590.05L1148.56 576.53M1135.04 627.97L1148.56 614.45M1135.04 665.89L1148.56 652.37M1135.04 703.81L1148.56 690.29M1135.04 361.03L1148.56 374.55M1135.04 398.95L1148.56 412.47M1135.04 436.87L1148.56 450.39M1135.04 474.79L1148.56 488.31M1135.04 512.71L1148.56 526.23M1135.04 550.63L1148.56 564.15M1135.04 588.55L1148.56 602.07M1135.04 626.47L1148.56 639.99M1135.04 664.39L1148.56 677.91M1135.04 702.31L1148.56 715.83M1202.58 361.84L1204.08 360.34M1202.58 399.76L1216.10 386.24M1202.58 437.68L1216.10 424.16M1202.58 475.60L1216.10 462.08M1202.58 513.52L1216.10 500.00M1202.58 551.44L1216.10 537.92M1202.58 589.36L1216.10 575.84M1202.58 627.28L1216.10 613.76M1202.58 665.20L1216.10 651.68M1202.58 703.12L1216.10 689.60M1215.97 727.65L1216.10 727.52M1202.58 360.34L1216.10 373.86M1202.58 398.26L1216.10 411.78M1202.58 436.18L1216.10 449.70M1202.58 474.10L1216.10 487.62M1202.58 512.02L1216.10 525.54M1202.58 549.94L1216.10 563.46M1202.58 587.86L1216.10 601.38M1202.58 625.78L1216.10 639.30M1202.58 663.70L1216.10 677.22M1202.58 701.62L1216.10 715.14M1270.12 729.15L1271.62 727.65M1270.12 767.07L1283.64 753.55M1270.12 804.99L1283.64 791.47M1270.12 842.91L1283.64 829.39M1270.12 880.83L1283.64 867.31M1270.12 918.75L1283.64 905.23M1270.12 956.67L1283.64 943.15M1270.12 727.65L1283.64 741.17M1270.12 765.57L1283.64 779.09M1270.12 803.49L1283.64 817.01M1270.12 841.41L1283.64 854.93M1270.12 879.33L1283.64 892.85M1270.12 917.25L1283.64 930.77M1270.12 955.17L1273.66 958.71M1337.66 729.15L1339.16 727.65M1337.66 767.07L1351.18 753.55M1337.66 804.99L1351.18 791.47M1337.66 842.91L1351.18 829.39M1337.66 880.83L1351.18 867.31M1347.23 909.18L1351.18 905.23M1337.66 727.65L1351.18 741.17M1337.66 765.57L1351.18 779.09M1337.66 803.49L1351.18 817.01M1337.66 841.41L1351.18 854.93M1337.66 879.33L1351.18 892.85M1405.20 729.15L1406.70 727.65M1405.20 767.07L1418.72 753.55M1405.20 727.65L1418.72 741.17M1405.20 765.57L1411.06 771.43M1472.74 729.15L1474.24 727.65M1472.74 767.07L1486.26 753.55M1472.74 804.99L1486.26 791.47M1472.74 842.91L1486.26 829.39M1472.74 880.83L1486.26 867.31M1472.74 918.75L1486.26 905.23M1472.74 956.67L1486.26 943.15M1472.74 994.59L1486.26 981.07M1472.74 1032.51L1486.26 1018.99M1472.74 1070.43L1486.26 1056.91M1472.74 1108.35L1486.26 1094.83M1472.74 1146.27L1486.26 1132.75M1472.74 1184.19L1486.26 1170.67M1472.74 1222.11L1486.26 1208.59M1472.74 1260.03L1486.26 1246.51M1472.74 727.65L1486.26 741.17M1472.74 765.57L1486.26 779.09M1472.74 803.49L1486.26 817.01M1472.74 841.41L1486.26 854.93M1472.74 879.33L1486.26 892.85M1472.74 917.25L1486.26 930.77M1472.74 955.17L1486.26 968.69M1472.74 993.09L1486.26 1006.61M1472.74 1031.01L1486.26 1044.53M1472.74 1068.93L1486.26 1082.45M1472.74 1106.85L1486.26 1120.37M1472.74 1144.77L1486.26 1158.29M1472.74 1182.69L1486.26 1196.21M1472.74 1220.61L1486.26 1234.13M1472.74 1258.53L1486.26 1272.05M1540.28 729.15L1541.78 727.65M1540.28 767.07L1553.80 753.55M1540.28 804.99L1553.80 791.47M1540.28 842.91L1553.80 829.39M1540.28 880.83L1553.80 867.31M1540.28 918.75L1553.80 905.23M1540.28 956.67L1553.80 943.15M1540.28 994.59L1553.80 981.07M1540.28 1032.51L1553.80 1018.99M1540.28 1070.43L1553.80 1056.91M1540.28 1108.35L1553.80 1094.83M1540.28 1146.27L1553.80 1132.75M1540.28 1184.19L1553.80 1170.67M1540.28 1222.11L1553.80 1208.59M1540.28 1260.03L1553.80 1246.51M1540.28 727.65L1553.80 741.17M1540.28 765.57L1553.80 779.09M1540.28 803.49L1553.80 817.01M1540.28 841.41L1553.80 854.93M1540.28 879.33L1553.80 892.85M1540.28 917.25L1553.80 930.77M1540.28 955.17L1553.80 968.69M1540.28 993.09L1553.80 1006.61M1540.28 1031.01L1553.80 1044.53M1540.28 1068.93L1553.80 1082.45M1540.28 1106.85L1553.80 1120.37M1540.28 1144.77L1553.80 1158.29M1540.28 1182.69L1553.80 1196.21M1540.28 1220.61L1553.80 1234.13M1540.28 1258.53L1553.80 1272.05M1607.82 729.15L1609.32 727.65M1607.82 767.07L1621.34 753.55M1607.82 804.99L1621.34 791.47M1607.82 842.91L1621.34 829.39M1607.82 880.83L1621.34 867.31M1607.82 918.75L1621.34 905.23M1607.82 956.67L1621.34 943.15M1607.82 994.59L1621.34 981.07M1607.82 1032.51L1621.34 1018.99M1607.82 1070.43L1621.34 1056.91M1607.82 1108.35L1621.34 1094.83M1607.82 1146.27L1621.34 1132.75M1607.82 1184.19L1621.34 1170.67M1607.82 1222.11L1621.34 1208.59M1607.82 1260.03L1621.34 1246.51M1607.82 727.65L1621.34 741.17M1607.82 765.57L1621.34 779.09M1607.82 803.49L1621.34 817.01M1607.82 841.41L1621.34 854.93M1607.82 879.33L1621.34 892.85M1607.82 917.25L1621.34 930.77M1607.82 955.17L1621.34 968.69M1607.82 993.09L1621.34 1006.61M1607.82 1031.01L1621.34 1044.53M1607.82 1068.93L1621.34 1082.45M1607.82 1106.85L1621.34 1120.37M1607.82 1144.77L1621.34 1158.29M1607.82 1182.69L1621.34 1196.21M1607.82 1220.61L1621.34 1234.13M1607.82 1258.53L1621.34 1272.05M1675.36 729.15L1676.86 727.65M1675.36 767.07L1688.88 753.55M1675.36 804.99L1688.88 791.47M1675.36 842.91L1688.88 829.39M1675.36 880.83L1688.88 867.31M1675.36 918.75L1688.88 905.23M1675.36 956.67L1688.88 943.15M1675.36 994.59L1688.88 981.07M1675.36 1032.51L1688.88 1018.99M1675.36 1070.43L1688.88 1056.91M1675.36 1108.35L1688.88 1094.83M1675.36 1146.27L1688.88 1132.75M1675.36 1184.19L1688.88 1170.67M1675.36 1222.11L1688.88 1208.59M1675.36 1260.03L1688.88 1246.51M1675.36 727.65L1688.88 741.17M1675.36 765.57L1688.88 779.09M1675.36 803.49L1688.88 817.01M1675.36 841.41L1688.88 854.93M1675.36 879.33L1688.88 892.85M1675.36 917.25L1688.88 930.77M1675.36 955.17L1688.88 968.69M1675.36 993.09L1688.88 1006.61M1675.36 1031.01L1688.88 1044.53M1675.36 1068.93L1688.88 1082.45M1675.36 1106.85L1688.88 1120.37M1675.36 1144.77L1688.88 1158.29M1675.36 1182.69L1688.88 1196.21M1675.36 1220.61L1688.88 1234.13M1675.36 1258.53L1688.88 1272.05M1742.90 729.15L1744.40 727.65M1742.90 767.07L1756.42 753.55M1742.90 804.99L1756.42 791.47M1742.90 842.91L1756.42 829.39M1742.90 880.83L1756.42 867.31M1742.90 918.75L1756.42 905.23M1742.90 956.67L1756.42 943.15M1742.90 994.59L1756.42 981.07M1742.90 1032.51L1756.42 1018.99M1742.90 1070.43L1756.42 1056.91M1742.90 1108.35L1756.42 1094.83M1742.90 1146.27L1756.42 1132.75M1742.90 727.65L1756.42 741.17M1742.90 765.57L1756.42 779.09M1742.90 803.49L1756.42 817.01M1742.90 841.41L1756.42 854.93M1742.90 879.33L1756.42 892.85M1742.90 917.25L1756.42 930.77M1742.90 955.17L1756.42 968.69M1742.90 993.09L1756.42 1006.61M1742.90 1031.01L1756.42 1044.53M1742.90 1068.93L1756.42 1082.45M1742.90 1106.85L1756.42 1120.37M1742.90 1144.77L1756.42 1158.29M1877.98 181.95L1879.48 180.45M1877.98 219.87L1891.50 206.35M1877.98 257.79L1891.50 244.27M1877.98 295.71L1891.50 282.19M1877.98 333.63L1891.50 320.11M1877.98 371.55L1891.50 358.03M1877.98 409.47L1891.50 395.95M1877.98 447.39L1891.50 433.87M1877.98 485.31L1891.50 471.79M1877.98 523.23L1891.50 509.71M1877.98 561.15L1891.50 547.63M1877.98 599.07L1891.50 585.55M1877.98 636.99L1891.50 623.47M1877.98 674.91L1891.50 661.39M1877.98 712.83L1891.50 699.31M1877.98 180.45L1891.50 193.97M1877.98 218.37L1891.50 231.89M1877.98 256.29L1891.50 269.81M1877.98 294.21L1891.50 307.73M1877.98 332.13L1891.50 345.65M1877.98 370.05L1891.50 383.57M1877.98 407.97L1891.50 421.49M1877.98 445.89L1891.50 459.41M1877.98 483.81L1891.50 497.33M1877.98 521.73L1891.50 535.25M1877.98 559.65L1891.50 573.17M1877.98 597.57L1891.50 611.09M1877.98 635.49L1891.50 649.01M1877.98 673.41L1891.50 686.93M1877.98 711.33L1891.50 724.85" fill="none" stroke="#000" stroke-width="1.1"/>
<g stroke="#000" stroke-width="5.2" fill="none">
<path d="M243.50 40.00V1411.80H1934.10"/>
<path d="M243.50 727.65H1934.10"/>
<path d="M245.90 1274.85h24.20M245.90 1138.05h11.20M245.90 1001.25h24.20M245.90 864.45h11.20M245.90 727.65h24.20M245.90 590.85h11.20M245.90 454.05h24.20M245.90 317.25h11.20M245.90 180.45h24.20M245.90 42.60h11.20M311.04 1409.40v-11.20M378.58 1409.40v-24.20M446.12 1409.40v-11.20M513.66 1409.40v-24.20M581.20 1409.40v-11.20M648.74 1409.40v-24.20M716.28 1409.40v-11.20M783.82 1409.40v-24.20M851.36 1409.40v-11.20M918.90 1409.40v-24.20M986.44 1409.40v-11.20M1053.98 1409.40v-24.20M1121.52 1409.40v-11.20M1189.06 1409.40v-24.20M1256.60 1409.40v-11.20M1324.14 1409.40v-24.20M1391.68 1409.40v-11.20M1459.22 1409.40v-24.20M1526.76 1409.40v-11.20M1594.30 1409.40v-24.20M1661.84 1409.40v-11.20M1729.38 1409.40v-24.20M1796.92 1409.40v-11.20M1864.46 1409.40v-24.20M1931.50 1409.40v-11.20"/>
</g>
<g font-family="'Liberation Serif', 'Times New Roman', serif" fill="#000">
<g font-size="60.5" text-anchor="middle">
<text transform="translate(242.9 1484.6) scale(0.955 1)">0</text>
<text transform="translate(378.0 1484.6) scale(0.955 1)">2</text>
<text transform="translate(513.1 1484.6) scale(0.955 1)">4</text>
<text transform="translate(648.1 1484.6) scale(0.955 1)">6</text>
<text transform="translate(783.2 1484.6) scale(0.955 1)">8</text>
<text transform="translate(918.3 1484.6) scale(0.955 1)">10</text>
<text transform="translate(1053.4 1484.6) scale(0.955 1)">12</text>
<text transform="translate(1188.5 1484.6) scale(0.955 1)">14</text>
<text transform="translate(1323.5 1484.6) scale(0.955 1)">16</text>
<text transform="translate(1458.6 1484.6) scale(0.955 1)">18</text>
<text transform="translate(1593.7 1484.6) scale(0.955 1)">20</text>
<text transform="translate(1728.8 1484.6) scale(0.955 1)">22</text>
<text transform="translate(1863.9 1484.6) scale(0.955 1)">24</text>
</g>
<g font-size="60.5" text-anchor="end">
<text transform="translate(213.9 197.1) scale(0.955 1)">400</text>
<text transform="translate(213.9 470.7) scale(0.955 1)">200</text>
<text transform="translate(213.9 744.3) scale(0.955 1)">0</text>
<text transform="translate(213.9 1017.9) scale(0.955 1)">-200</text>
<text transform="translate(213.9 1291.5) scale(0.955 1)">-400</text>
</g>
<text transform="translate(1088.3 1593.7) scale(1.03 1)" font-size="69" text-anchor="middle">Time/h</text>
<text transform="translate(78.2 728.8) rotate(-90) scale(1.035 1)" font-size="69" text-anchor="middle">Power/kW</text>
<rect x="1460.5" y="241.1" width="311.1" height="360.8" fill="#fff" stroke="#000" stroke-width="1.5"/>
<rect x="1470.5" y="252.0" width="156.3" height="76.9" fill="#FFAD5C" stroke="#3b3227" stroke-width="3" stroke-linejoin="round"/>
<rect x="1470.5" y="339.5" width="156.3" height="76.9" fill="#52CD7F" stroke="#000" stroke-width="3" stroke-linejoin="round"/>
<path d="M1470.50 341.00L1472.00 339.50M1470.50 378.92L1509.92 339.50M1470.94 416.40L1547.84 339.50M1508.86 416.40L1585.76 339.50M1546.78 416.40L1623.68 339.50M1584.70 416.40L1626.80 374.30M1622.62 416.40L1626.80 412.22" fill="none" stroke="#000" stroke-width="1.1"/>
<rect x="1470.5" y="427.0" width="156.3" height="76.9" fill="#B394C7" stroke="#000" stroke-width="3" stroke-linejoin="round"/>
<path d="M1622.18 427.00L1626.80 431.62M1584.26 427.00L1626.80 469.54M1546.34 427.00L1623.24 503.90M1508.42 427.00L1585.32 503.90M1470.50 427.00L1547.40 503.90M1470.50 464.92L1509.48 503.90M1470.50 502.84L1471.56 503.90" fill="none" stroke="#000" stroke-width="1.1"/>
<rect x="1470.5" y="514.3" width="156.3" height="76.9" fill="#FDFD55" stroke="#000" stroke-width="3" stroke-linejoin="round"/>
<path d="M1470.50 515.80L1472.00 514.30M1470.50 553.72L1509.92 514.30M1470.94 591.20L1547.84 514.30M1508.86 591.20L1585.76 514.30M1546.78 591.20L1623.68 514.30M1584.70 591.20L1626.80 549.10M1622.62 591.20L1626.80 587.02M1622.18 514.30L1626.80 518.92M1584.26 514.30L1626.80 556.84M1546.34 514.30L1623.24 591.20M1508.42 514.30L1585.32 591.20M1470.50 514.30L1547.40 591.20M1470.50 552.22L1509.48 591.20M1470.50 590.14L1471.56 591.20" fill="none" stroke="#000" stroke-width="1.1"/>
<g font-size="71.5">
<text transform="translate(1644.3 314.0) scale(0.97 1)">ES1</text>
<text transform="translate(1644.3 401.7) scale(0.97 1)">ES2</text>
<text transform="translate(1644.3 489.2) scale(0.97 1)">ES3</text>
<text transform="translate(1644.3 576.5) scale(0.97 1)">ES4</text>
</g>
</g>
</svg>
</body>
</html>
